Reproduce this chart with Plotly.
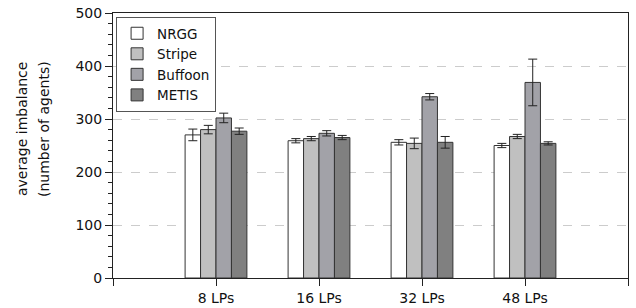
import plotly.graph_objects as go

categories = ["8 LPs", "16 LPs", "32 LPs", "48 LPs"]
series_names = ["NRGG", "Stripe", "Buffoon", "METIS"]
nrgg = [270, 259, 256, 250]
nrgg_err = [11, 4, 5, 4]
stripe = [280, 263, 254, 267]
stripe_err = [8, 4, 10, 4]
buffoon = [302, 273, 342, 369]
buffoon_err = [9, 5, 6, 44]
metis = [277, 265, 256, 254]
metis_err = [6, 4, 11, 3]
y_ticks = [0, 100, 200, 300, 400, 500]
y_title_lines = ["average imbalance", "(number of agents)"]

values = [nrgg, stripe, buffoon, metis]
errors = [nrgg_err, stripe_err, buffoon_err, metis_err]
colors = ["#ffffff", "#c0c0c0", "#a2a2a8", "#808080"]

xpos = list(range(1, len(categories) + 1))

fig = go.Figure()
for name, v, e, c in zip(series_names, values, errors, colors):
    fig.add_trace(go.Bar(
        x=xpos, y=v, name=name,
        marker=dict(color=c, line=dict(color="#333333", width=1)),
        error_y=dict(type="data", array=e, visible=True, color="#222222",
                     thickness=1, width=4.5),
    ))

font = "DejaVu Sans, Verdana, sans-serif"
fig.update_layout(
    width=636, height=308,
    margin=dict(l=113, r=8, t=13, b=30, autoexpand=False),
    barmode="group", bargap=0.4, bargroupgap=0,
    plot_bgcolor="white", paper_bgcolor="white",
    font=dict(family=font, size=14, color="#111111"),
    showlegend=True,
    legend=dict(x=0.006, y=0.985, xanchor="left", yanchor="top",
                bgcolor="white", bordercolor="#555555", borderwidth=1,
                font=dict(size=13.5), tracegroupgap=0, itemwidth=30),
    xaxis=dict(range=[0, 5], tickmode="array", tickvals=[0, 1, 2, 3, 4, 5],
               ticktext=[""] + categories + [""], automargin=False,
               ticks="outside", ticklen=7, tickcolor="#222222",
               showline=True, linecolor="#222222", linewidth=1, mirror=True,
               showgrid=False, zeroline=False),
    yaxis=dict(range=[0, 500], tickmode="array", tickvals=y_ticks, automargin=False,
               ticks="outside", ticklen=7, tickcolor="#222222",
               minor=dict(dtick=20, ticks="outside", ticklen=4, tickcolor="#222222", showgrid=False),
               showline=True, linecolor="#222222", linewidth=1, mirror=True,
               showgrid=True, gridcolor="#cccccc", griddash="dash", gridwidth=1,
               zeroline=False),
)

for i, (txt, xp) in enumerate(zip(y_title_lines, [22, 44])):
    fig.add_annotation(text=txt, textangle=-90, showarrow=False,
                       xref="paper", yref="paper",
                       x=(xp - 113) / 515, y=(278 - 129) / 265,
                       xanchor="center", yanchor="middle",
                       font=dict(size=14, family=font, color="#111111"))

fig.write_html("out.html", config={"displayModeBar": False})

with open("out.html", "r", encoding="utf-8") as f:
    html = f.read()
html = html.replace("<head>", "<head><style>html,body{margin:0;padding:0;overflow:hidden;}</style>", 1)
with open("out.html", "w", encoding="utf-8") as f:
    f.write(html)
